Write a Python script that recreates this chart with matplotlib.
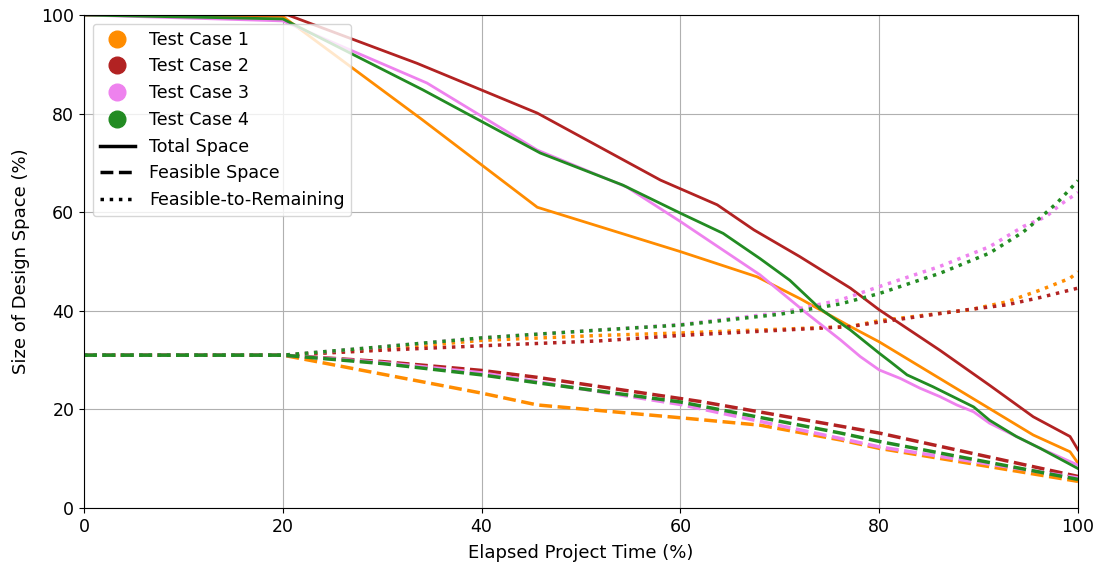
import matplotlib
matplotlib.use("Agg")
import matplotlib.pyplot as plt
from matplotlib.lines import Line2D

# Test case names and colours
cases = ["Test Case 1", "Test Case 2", "Test Case 3", "Test Case 4"]
colors = ["darkorange", "firebrick", "violet", "forestgreen"]

# Total space (%) vs elapsed time (%)
tc1_total_x = [0, 20, 34, 45.6, 60, 67.7, 72, 77.1, 80, 95.5, 99.2, 100]
tc1_total_y = [100, 99.7, 78.8, 61, 52, 46.9, 42.5, 36.8, 33.7, 14.8, 11.4, 9.1]
tc2_total_x = [0, 20.5, 33.5, 45.6, 58, 63.7, 67.4, 72, 77.1, 80, 86.1, 91.1, 95.5, 99.2, 100]
tc2_total_y = [100, 100, 90.2, 80.1, 66.5, 61.5, 56.4, 51, 44.6, 40.2, 32, 24.9, 18.5, 14.5, 11.8]
tc3_total_x = [0, 20, 34.5, 45.6, 54.6, 60, 68, 72.7, 76.1, 77.1, 78.1, 80, 82.1, 84.1, 86.1,
               87.8, 89.5, 91.1, 93.8, 96.2, 100]
tc3_total_y = [100, 98.8, 86.2, 72.6, 65.1, 58.1, 47.3, 39.5, 34.1, 32.4, 30.7, 28, 26.3, 24.3, 22.6,
               20.9, 19.5, 17.2, 14.5, 12.1, 8.7]
tc4_total_x = [0, 20, 34.1, 45.9, 54.2, 60, 64.3, 68, 71, 74, 77.1, 80, 81.1, 82.8, 85.4,
               87.4, 89.5, 91.1, 93.8, 96.2, 100]
tc4_total_y = [100, 99.2, 84.8, 72, 65.5, 59.8, 55.7, 50.6, 46.2, 40.5, 36.1, 31.4, 29.7, 27, 24.6,
               22.6, 20.5, 17.8, 14.5, 12.1, 8.0]

# Feasible space (%)
tc1_feas_x = [0, 20, 40, 45.6, 60, 68, 76.1, 80, 100]
tc1_feas_y = [31, 31, 23.3, 20.9, 18.3, 16.8, 13.8, 12.1, 5.4]
tc2_feas_x = [0, 20, 30, 40, 45.6, 60, 62, 76.1, 80, 100]
tc2_feas_y = [31, 31, 29.7, 27.9, 26.5, 22.2, 21.6, 16.6, 15.2, 6.4]
tc3_feas_x = [0, 20, 30, 40, 45.6, 60, 76.1, 80, 100]
tc3_feas_y = [31, 31, 29.5, 27.4, 25.6, 21.0, 14.1, 12.4, 6.1]
tc4_feas_x = [0, 20, 30, 40, 45.6, 60, 76.1, 80, 100]
tc4_feas_y = [31, 31, 29.3, 27.0, 25.4, 21.5, 15.2, 13.5, 5.8]

# Feasible-to-remaining (%)
tc1_ftr_x = [0, 20, 30, 40, 51.9, 60, 77.1, 80, 89.1, 92.8, 96.2, 99.2, 100]
tc1_ftr_y = [31, 31, 32.2, 34.0, 35, 35.5, 36.8, 38, 40.2, 41.8, 44.2, 46.6, 47.9]
tc2_ftr_x = [0, 20, 30, 40, 51.9, 60, 77.1, 80, 88.8, 92.8, 96.2, 100]
tc2_ftr_y = [31, 31, 32, 32.9, 33.9, 35, 36.8, 37.7, 40.2, 41.2, 42.7, 44.6]
tc3_ftr_x = [0, 20, 30, 40, 51.9, 60, 70, 76.1, 80, 86.1, 91.1, 94.5, 96.8, 98.2, 100]
tc3_ftr_y = [31, 31, 32.7, 34.5, 36.1, 37.2, 39.6, 42.2, 44.9, 49, 53, 57.1, 59.1, 61.5, 64]
tc4_ftr_x = [0, 20, 30, 40, 51.9, 60, 70, 76.1, 80, 86.1, 91.1, 94.5, 96.5, 97.9, 100]
tc4_ftr_y = [31, 31, 32.7, 34.5, 36.1, 37.1, 39.3, 41.4, 43.5, 47.6, 51.7, 56, 59.4, 61.9, 66.4]

total = [(tc1_total_x, tc1_total_y), (tc2_total_x, tc2_total_y),
         (tc3_total_x, tc3_total_y), (tc4_total_x, tc4_total_y)]
feas = [(tc1_feas_x, tc1_feas_y), (tc2_feas_x, tc2_feas_y),
        (tc3_feas_x, tc3_feas_y), (tc4_feas_x, tc4_feas_y)]
ftr = [(tc1_ftr_x, tc1_ftr_y), (tc2_ftr_x, tc2_ftr_y),
       (tc3_ftr_x, tc3_ftr_y), (tc4_ftr_x, tc4_ftr_y)]

plt.rcParams['font.size'] = 12.5

fig, ax = plt.subplots(figsize=(11, 5.7), dpi=100)
fig.subplots_adjust(left=0.0764, right=0.98, top=0.9737, bottom=0.1088)

for i, c in enumerate(colors):
    ax.plot(total[i][0], total[i][1], color=c, linestyle='-', linewidth=2)
    ax.plot(feas[i][0], feas[i][1], color=c, linestyle='--', linewidth=2.5)
    ax.plot(ftr[i][0], ftr[i][1], color=c, linestyle=':', linewidth=2.5)

ax.set_xlim(0, 100)
ax.set_ylim(0, 100)
ax.grid(True)
ax.set_xlabel("Elapsed Project Time (%)", fontsize=13, labelpad=6)
ax.set_ylabel("Size of Design Space (%)", fontsize=13, labelpad=8)

# Legend: colours for cases, black lines for the series type
handles = [Line2D([], [], marker='o', color=c, linestyle='None', markersize=12) for c in colors]
handles += [Line2D([], [], color='black', linestyle='-', linewidth=2.5),
            Line2D([], [], color='black', linestyle='--', linewidth=2.5),
            Line2D([], [], color='black', linestyle=':', linewidth=2.5)]
labels = cases + ["Total Space", "Feasible Space", "Feasible-to-Remaining"]
ax.legend(handles, labels, loc='upper left', fontsize=12.6)

fig.savefig("out.png")
